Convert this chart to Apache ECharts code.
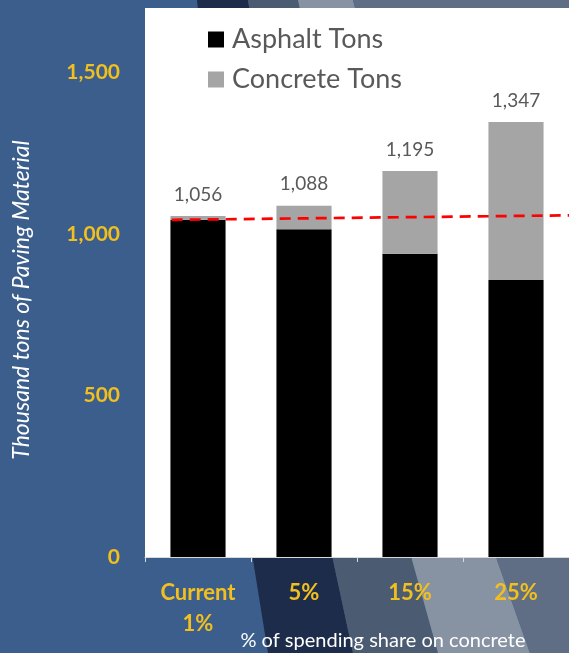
<!DOCTYPE html>
<html>
<head>
<meta charset="utf-8">
<script src="https://cdn.jsdelivr.net/npm/echarts@6/dist/echarts.min.js"></script>
<style>
html,body{margin:0;padding:0;background:#3b5e8c;}
#c{width:569px;height:653px;}
</style>
</head>
<body>
<div id="c"></div>
<script>
const categories = ['Current\n1%', '5%', '15%', '25%'];
const asphaltTons = [1044, 1015, 939, 858];
const concreteTons = [12, 73, 256, 489];
const totalLabels = ['1,056', '1,088', '1,195', '1,347'];
const trendX = [0.252, 4];
const trendY = [1044, 1058];
const yTicks = [0, 500, 1000, 1500];

const chart = echarts.init(document.getElementById('c'), null, {renderer: 'canvas'});

const stripes = [
  {fill: '#1c2c4a', pts: [[197,0],[248,0],[333,560],[353,653],[268,653],[253,560]]},
  {fill: '#4b5b71', pts: [[248,0],[298,0],[412,560],[438,653],[353,653],[333,560]]},
  {fill: '#8793a3', pts: [[298,0],[353,0],[497,560],[530,653],[438,653],[412,560]]},
  {fill: '#5f6e84', pts: [[353,0],[569,0],[569,653],[530,653],[497,560]]}
];

const option = {
  backgroundColor: '#3b5e8c',
  animation: false,
  textStyle: {fontFamily: 'Lato'},
  graphic: [
    ...stripes.map(s => ({type: 'polygon', z: -10, silent: true, shape: {points: s.pts}, style: {fill: s.fill}})),
    {type: 'text', z: 10, x: 22, y: 300, rotation: Math.PI / 2,
     style: {text: 'Thousand tons of Paving Material', fill: '#ffffff', font: 'italic 23px Lato', align: 'center', verticalAlign: 'middle'}},
    {type: 'text', z: 10, x: 383, y: 641,
     style: {text: '% of spending share on concrete', fill: '#ffffff', font: '20px Lato', align: 'center', verticalAlign: 'middle'}}
  ],
  legend: {
    orient: 'vertical', left: 203, top: 21,
    itemWidth: 16, itemHeight: 16, itemGap: 13,
    icon: 'rect',
    textStyle: {color: '#595959', fontSize: 27, lineHeight: 27, fontFamily: 'Lato', padding: [0, 0, 0, 3]},
    data: ['Asphalt Tons', 'Concrete Tons']
  },
  grid: {left: 145, right: -4, top: 8, bottom: 96, show: true, backgroundColor: '#ffffff', borderWidth: 0},
  xAxis: [{
    type: 'category', data: categories,
    axisLine: {lineStyle: {color: '#d9d9d9', width: 1}},
    axisTick: {show: true, length: 5, lineStyle: {color: '#d9d9d9'}},
    axisLabel: {color: '#f2c01e', fontWeight: 'bold', fontSize: 22, lineHeight: 31, margin: 20, fontFamily: 'Lato'}
  }, {
    type: 'value', min: 0, max: 4, show: false
  }],
  yAxis: {
    type: 'value', min: 0, max: 1700, interval: 500,
    axisLine: {show: false}, axisTick: {show: false}, splitLine: {show: false},
    axisLabel: {color: '#f2c01e', fontWeight: 'bold', fontSize: 21, margin: 25, showMaxLabel: false, fontFamily: 'Lato',
      formatter: v => yTicks.includes(v) ? v.toLocaleString('en-US') : ''}
  },
  series: [
    {name: 'Asphalt Tons', type: 'bar', stack: 't', data: asphaltTons, barWidth: '52%', itemStyle: {color: '#000000'}},
    {name: 'Concrete Tons', type: 'bar', stack: 't', data: concreteTons, itemStyle: {color: '#a5a5a5'},
     label: {show: true, position: 'top', distance: 12, color: '#595959', fontSize: 19, fontFamily: 'Lato',
       formatter: p => totalLabels[p.dataIndex]}},
    {name: 'trend', type: 'line', xAxisIndex: 1, data: trendX.map((x, i) => [x, trendY[i]]),
     symbol: 'none', lineStyle: {color: '#ff0000', width: 2.7, type: [11, 7]}, z: 5}
  ]
};
chart.setOption(option);
</script>
</body>
</html>
